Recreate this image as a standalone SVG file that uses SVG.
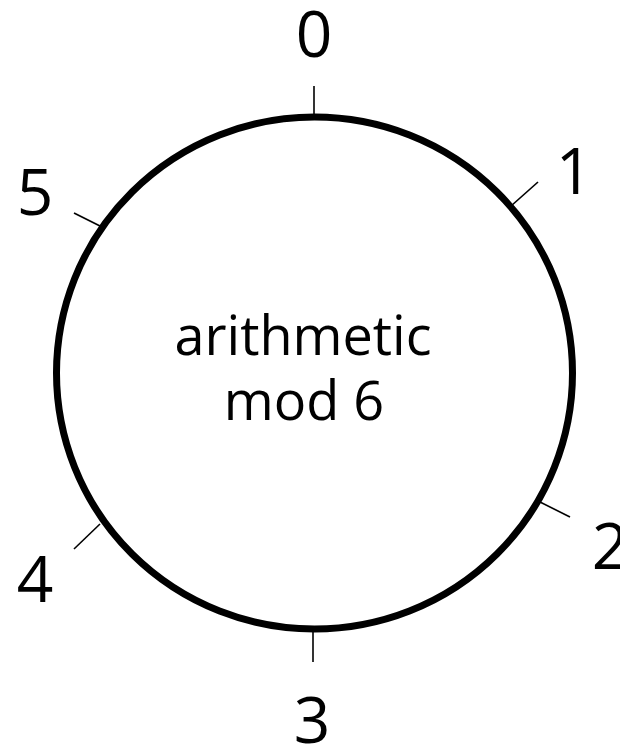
<svg xmlns="http://www.w3.org/2000/svg" width="620" height="744" viewBox="0 0 620 744">
<style>
.ring{fill:none;stroke:#000;stroke-width:7}
.tick{stroke:#000;stroke-width:1.6;fill:none}
.num{font-family:"Open Sans","DejaVu Sans",sans-serif;font-size:64px;fill:#000;text-anchor:middle}
.lbl{font-family:"Open Sans","DejaVu Sans",sans-serif;font-size:54px;fill:#000;text-anchor:middle}
</style>
<rect width="620" height="744" fill="#fff"/>
<g id="circle">
<ellipse class="ring" cx="314.5" cy="373" rx="258" ry="256"/>
<text class="lbl" x="303" y="355">arithmetic</text>
<text class="lbl" x="304" y="420">mod 6</text>
</g>
<g id="connectors">
<line class="tick" x1="314" y1="86" x2="314" y2="117"/>
<line class="tick" x1="538" y1="182" x2="511" y2="206"/>
<line class="tick" x1="540" y1="502" x2="570" y2="517"/>
<line class="tick" x1="313" y1="630" x2="313" y2="662"/>
<line class="tick" x1="100" y1="524" x2="74" y2="549"/>
<line class="tick" x1="74" y1="213" x2="100" y2="226"/>
</g>
<g id="n0"><text class="num" x="314" y="57">0</text></g>
<g id="n1"><text class="num" x="574" y="194">1</text></g>
<g id="n2"><text class="num" x="610" y="569">2</text></g>
<g id="n3"><text class="num" x="312" y="743">3</text></g>
<g id="n4"><text class="num" x="35" y="602">4</text></g>
<g id="n5"><text class="num" x="35" y="215">5</text></g>
</svg>
